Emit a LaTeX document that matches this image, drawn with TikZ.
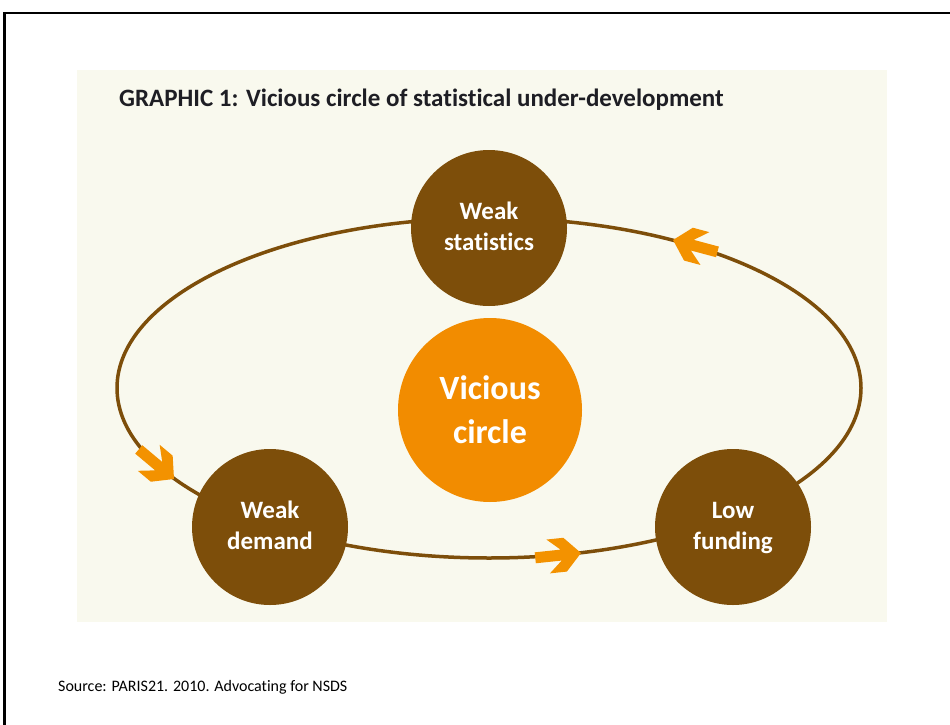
\documentclass[tikz,border=0pt]{standalone}
\usepackage{fontspec}
\setmainfont[Ligatures=NoCommon]{Carlito}
\definecolor{panelbg}{HTML}{F9F9EE}
\definecolor{ringbrown}{HTML}{7D4E0A}
\definecolor{vcorange}{HTML}{F28C00}
\definecolor{arroworange}{HTML}{F39200}
\definecolor{titleink}{HTML}{1E1E24}
\tikzset{
  stage/.style={circle, fill=ringbrown, draw=none, minimum size=156pt, inner sep=0pt,
    text=white, align=center, font=\fontsize{25}{31}\selectfont\bfseries},
  centre/.style={circle, fill=vcorange, draw=none, minimum size=184pt, inner sep=0pt,
    text=white, align=center, font=\fontsize{34}{44}\selectfont\bfseries},
  ring/.style={draw=ringbrown, line width=3.5pt},
  fatarrow/.pic={\fill[arroworange] (0,0) -- (-16,17) -- (-33,17) -- (-20,5.5) -- (-46,5.5)
     -- (-46,-5.5) -- (-20,-5.5) -- (-33,-17) -- (-16,-17) -- cycle;}
}
\begin{document}
\begin{tikzpicture}[x=1pt,y=-1pt]
\useasboundingbox (0,0) rectangle (950,725);
\fill[white] (0,0) rectangle (950,725);
% slide frame
\draw[line width=2.5pt, black] (4.7,730) -- (4.7,12.8) -- (955,12.8);
% panel
\node[fill=panelbg, draw=none, minimum width=810pt, minimum height=552pt, inner sep=0pt,
      anchor=north west] (panel) at (77,70) {};
% title
\node[anchor=base west, inner sep=0pt, text=titleink, font=\fontsize{25}{30}\selectfont\bfseries]
  (title) at (119,106) {GRAPHIC 1: Vicious circle of statistical under-development};
% ring
\coordinate (ringc) at (489,388);
\draw[ring] (ringc) ellipse [x radius=372pt, y radius=170pt];
% arrows on the ring
\pic[rotate=165] at (673,240) {fatarrow};
\pic[rotate=-40] at (174,479) {fatarrow};
\pic[rotate=6] at (581,553) {fatarrow};
% stages
\node[stage] (ws) at (489,228) {Weak\\statistics\vphantom{g}};
\node[stage] (wd) at (270,527) {Weak\\demand\vphantom{g}};
\node[stage] (lf) at (733,527) {Low\vphantom{k}\\funding};
\node[centre] (vc) at (490,410) {Vicious\\circle};
% source
\node[anchor=base west, inner sep=0pt, font=\fontsize{16}{19}\selectfont]
  (source) at (58,691) {Source: PARIS21. 2010. Advocating for NSDS};
\end{tikzpicture}
\end{document}
